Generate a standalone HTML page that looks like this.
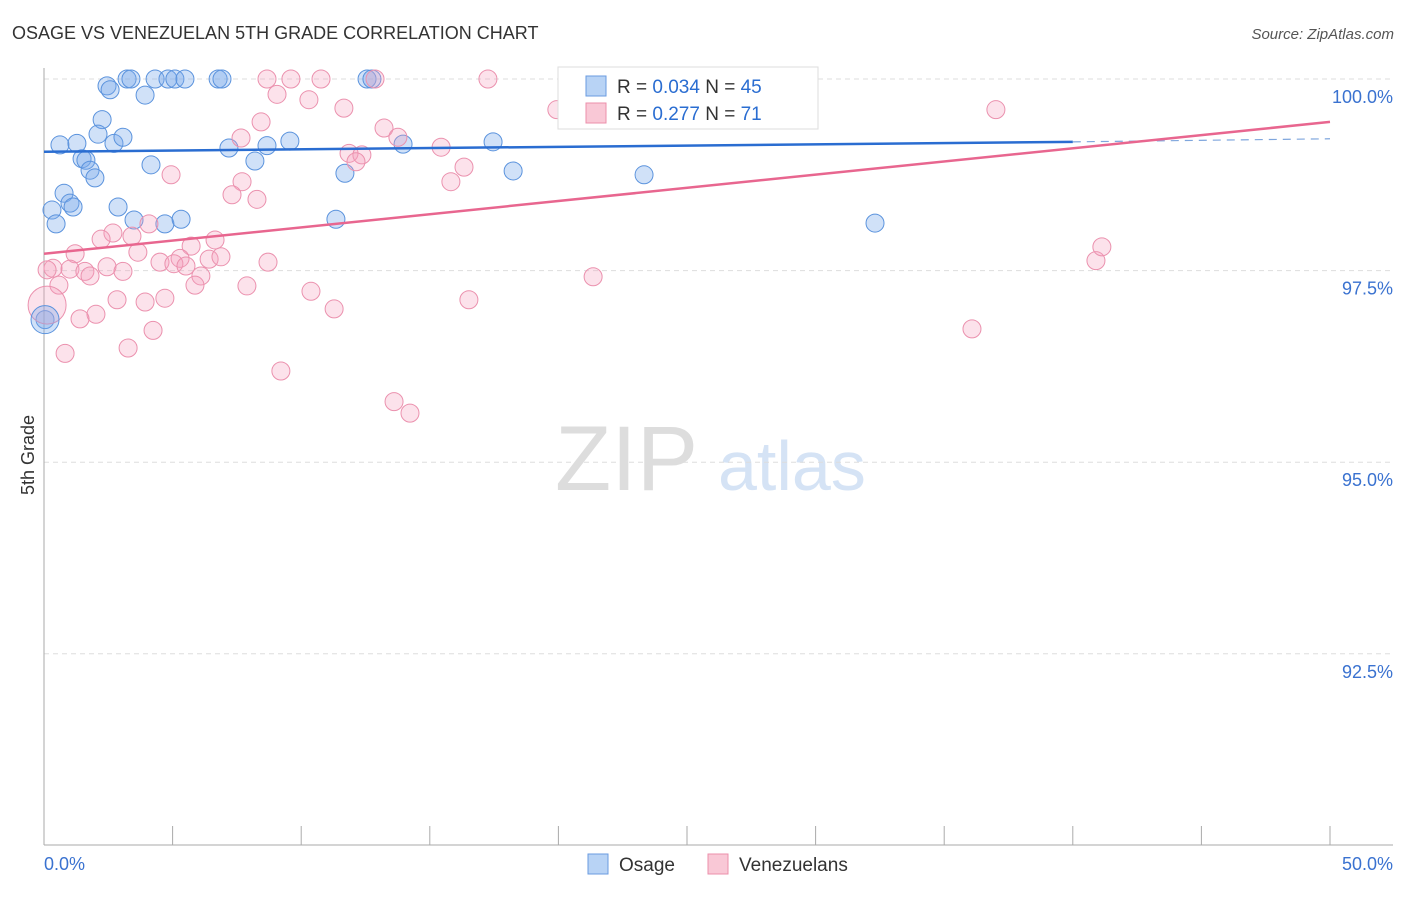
<!DOCTYPE html>
<html><head><meta charset="utf-8"><style>
body{margin:0;background:#fff;font-family:"Liberation Sans",sans-serif;}
svg text{font-family:"Liberation Sans",sans-serif;}
</style></head><body>
<svg id="chart" width="1406" height="892" xmlns="http://www.w3.org/2000/svg">
<text x="12" y="39" font-size="18" fill="#333">OSAGE VS VENEZUELAN 5TH GRADE CORRELATION CHART</text>
<text x="1394" y="39" font-size="15" fill="#555" text-anchor="end" font-style="italic">Source: ZipAtlas.com</text>
<text x="34" y="455" font-size="18" fill="#333" transform="rotate(-90 34 455)" text-anchor="middle">5th Grade</text>
<text x="555" y="490" font-size="92" fill="#ddd" font-family="Liberation Serif">ZIP</text>
<text x="718" y="490" font-size="70" fill="#d5e3f5">atlas</text>
<g id="grid"></g><g id="axes"></g><g id="pts"></g><g id="lines"></g>
<g>
<rect x="558" y="67" width="260" height="62" fill="#fff" stroke="#ddd"/>
<rect x="586" y="76" width="20" height="20" fill="#b8d3f5" stroke="#6a9be0"/>
<rect x="586" y="103" width="20" height="20" fill="#f9c8d6" stroke="#ec8fab"/>
<text x="617" y="93" font-size="19" fill="#333">R = <tspan fill="#2a6dd1">0.034</tspan>   N = <tspan fill="#2a6dd1">45</tspan></text>
<text x="617" y="120" font-size="19" fill="#333">R =  <tspan fill="#2a6dd1">0.277</tspan>   N =  <tspan fill="#2a6dd1">71</tspan></text>
</g>
<g>
<rect x="588" y="854" width="20" height="20" fill="#b8d3f5" stroke="#6a9be0"/>
<text x="619" y="871" font-size="19" fill="#333">Osage</text>
<rect x="708" y="854" width="20" height="20" fill="#f9c8d6" stroke="#ec8fab"/>
<text x="739" y="871" font-size="19" fill="#333">Venezuelans</text>
</g>
</svg>
<script>
const yTicks=[100,97.5,95,92.5];
const yTickLabels=["100.0%","97.5%","95.0%","92.5%"];
const xTickLabels=["0.0%","50.0%"];
const osageX=[0.62,1.28,2.26,2.45,2.57,3.23,3.38,3.93,4.32,4.82,5.09,5.48,6.77,6.92,12.56,12.75,22.78,2.10,2.72,3.07,1.48,1.63,1.79,1.98,0.78,1.01,1.13,0.31,0.47,2.88,3.50,4.16,4.70,5.33,7.19,8.20,8.67,9.56,11.35,11.70,13.96,17.46,18.24,23.33,32.31,0.04];
const osageY=[99.14,99.16,99.47,99.91,99.86,100,100,99.79,100,100,100,100,100,100,100,100,100,99.28,99.16,99.24,98.96,98.94,98.81,98.71,98.51,98.38,98.33,98.29,98.11,98.33,98.16,98.88,98.11,98.17,99.10,98.93,99.13,99.19,98.17,98.77,99.15,99.18,98.80,98.75,98.12,96.86];
const venX=[8.67,9.60,10.77,12.87,17.26,19.94,37.01,9.06,10.30,11.66,8.44,13.22,13.76,7.66,15.44,11.86,12.36,12.13,16.33,15.82,4.94,7.70,7.31,8.28,4.08,2.68,3.42,2.22,6.65,5.72,3.65,1.21,5.29,6.42,4.51,5.05,5.52,6.88,2.45,3.07,8.71,1.01,0.35,1.59,1.79,6.10,0.58,5.87,7.89,10.38,2.84,3.93,4.70,16.52,21.35,11.28,2.02,1.40,4.24,3.27,0.82,9.21,13.61,14.23,36.08,40.90,41.13,0.12];
const venY=[100,100,100,100,100,99.60,99.60,99.80,99.73,99.62,99.44,99.36,99.24,99.23,99.11,99.03,99.01,98.92,98.85,98.66,98.75,98.66,98.49,98.43,98.11,97.99,97.95,97.91,97.90,97.82,97.74,97.72,97.66,97.65,97.61,97.59,97.56,97.68,97.55,97.49,97.61,97.52,97.53,97.49,97.43,97.43,97.31,97.31,97.30,97.23,97.12,97.09,97.14,97.12,97.42,97.00,96.93,96.87,96.72,96.49,96.42,96.19,95.79,95.64,96.74,97.63,97.81,97.51];
const bigPoints=[{s:"ven",x:0.12,y:97.05,r:19},{s:"osage",x:0.04,y:96.86,r:14}];
const osageTrend=[99.05,99.18,99.22]; // at x=0, 40, 50
const venTrend=[97.72,99.44]; // at x=0, 50
const NS="http://www.w3.org/2000/svg";
const X=v=>44+v/50*1286, Y=v=>79+(100-v)/2.5*191.6;
function mk(t,a,p){const e=document.createElementNS(NS,t);for(const k in a)e.setAttribute(k,a[k]);document.getElementById(p).appendChild(e);return e;}
yTicks.forEach((t,i)=>{
 const l=mk("line",{x1:44,x2:1393,y1:Y(t),y2:Y(t),stroke:"#ddd","stroke-dasharray":"5,4"},"grid");
 
 
 const tx=mk("text",{x:1393,y:Y(t)+24,"font-size":18,fill:"#3a72d0","text-anchor":"end"},"axes");
 tx.textContent=yTickLabels[i];
 
 
});
mk("line",{x1:44,x2:44,y1:68,y2:845,stroke:"#aaa"},"axes");
mk("line",{x1:44,x2:1393,y1:845,y2:845,stroke:"#aaa"},"axes");
for(let i=0;i<=10;i++){const t=mk("line",{x1:X(i*5),x2:X(i*5),y1:826,y2:845,stroke:"#aaa"},"axes");
 
 }
xTickLabels.forEach((s,i)=>{const t=mk("text",{x:i?1393:44,y:870,"font-size":18,fill:"#3a72d0","text-anchor":i?"end":"start"},"axes");t.textContent=s;
 
 });
osageX.forEach((x,i)=>{const c=mk("circle",{cx:X(x),cy:Y(osageY[i]),r:9,fill:"rgba(120,170,235,0.35)",stroke:"#5b93dd","stroke-width":1},"pts");
 
 });
venX.forEach((x,i)=>{const c=mk("circle",{cx:X(x),cy:Y(venY[i]),r:9,fill:"rgba(245,160,190,0.3)",stroke:"#eb91ae","stroke-width":1},"pts");
 
 });
bigPoints.forEach(p=>{const c=mk("circle",{cx:X(p.x),cy:Y(p.y),r:p.r,fill:p.s=="ven"?"rgba(245,160,190,0.3)":"rgba(120,170,235,0.35)",stroke:p.s=="ven"?"#eb91ae":"#5b93dd"},"pts");
 
 });
let l=mk("line",{x1:X(0),y1:Y(osageTrend[0]),x2:X(40),y2:Y(osageTrend[1]),stroke:"#2a6dd1","stroke-width":2.5},"lines");


l=mk("line",{x1:X(40),y1:Y(osageTrend[1]),x2:X(50),y2:Y(osageTrend[2]),stroke:"#7fa6dd","stroke-width":1.2,"stroke-dasharray":"8,6"},"lines");


l=mk("line",{x1:X(0),y1:Y(venTrend[0]),x2:X(50),y2:Y(venTrend[1]),stroke:"#e8668f","stroke-width":2.5},"lines");


</script>
</body></html>
